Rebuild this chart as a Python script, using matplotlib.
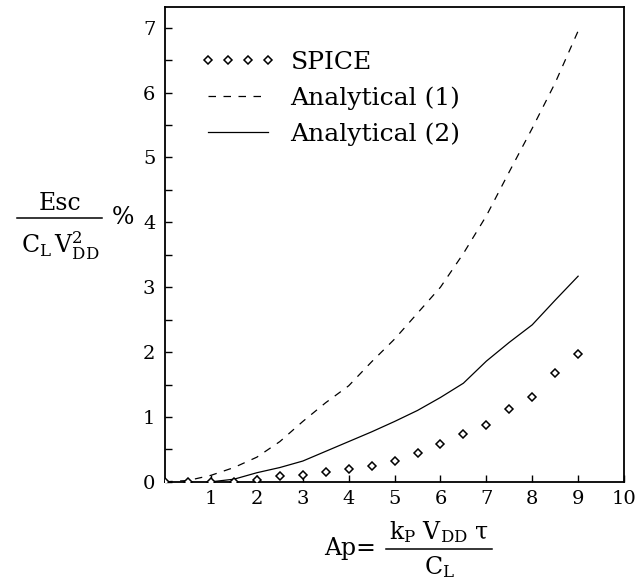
import numpy as np
import matplotlib
matplotlib.use("Agg")
import matplotlib.pyplot as plt
from matplotlib.lines import Line2D
from matplotlib.ticker import MultipleLocator

# SPICE results (diamonds)
spice_x = [0, 0.5, 1, 1.5, 2, 2.5, 3, 3.5, 4, 4.5, 5, 5.5, 6, 6.5, 7, 7.5, 8, 8.5, 9]
spice_y = [0.0, 0.0, 0.0, 0.0, 0.03, 0.09, 0.11, 0.15, 0.2, 0.25, 0.32, 0.44, 0.58, 0.73, 0.88, 1.12, 1.31, 1.67, 1.97]

# Analytical (1), dashed
an1_x = [0, 0.5, 1, 1.5, 2, 2.5, 3, 3.5, 4, 4.5, 5, 5.5, 6, 6.5, 7, 7.5, 8, 8.5, 9]
an1_y = [0.0, 0.02, 0.1, 0.22, 0.38, 0.62, 0.93, 1.22, 1.48, 1.85, 2.2, 2.6, 3.0, 3.52, 4.1, 4.78, 5.45, 6.15, 6.95]

# Analytical (2), solid
an2_x = [1, 1.5, 2, 2.5, 3, 3.5, 4, 4.5, 5, 5.5, 6, 6.5, 7, 7.5, 8, 8.5, 9]
an2_y = [0.0, 0.04, 0.14, 0.22, 0.32, 0.47, 0.62, 0.77, 0.93, 1.1, 1.3, 1.52, 1.86, 2.15, 2.42, 2.8, 3.17]

plt.rcParams['font.family'] = 'DejaVu Serif'
plt.rcParams['mathtext.fontset'] = 'dejavuserif'

W, H = 640, 584
fig = plt.figure(figsize=(W / 100, H / 100), dpi=100)
ax = fig.add_axes([0.258, 0.175, 0.717, 0.813])


def px(x, y):
    # pixel position -> figure fraction
    return x / W, 1 - y / H


ax.plot(spice_x, spice_y, linestyle='none', marker='D', markersize=4.5,
        markerfacecolor='white', markeredgecolor='black', markeredgewidth=1.1,
        label='SPICE', zorder=3)
ax.plot(an1_x, an1_y, color='black', linewidth=0.9, dashes=(6, 6), label='Analytical (1)')
ax.plot(an2_x, an2_y, color='black', linewidth=0.9, label='Analytical (2)')

ax.set_xlim(0, 10)
ax.set_ylim(0, 7.32)
ax.set_xticks(range(1, 11))
ax.set_yticks(range(0, 8))
ax.yaxis.set_minor_locator(MultipleLocator(0.5))
ax.tick_params(axis='both', which='both', direction='in', length=5, width=1,
               labelsize=14)
ax.tick_params(axis='y', pad=7)
ax.tick_params(axis='x', pad=6)
for s in ax.spines.values():
    s.set_linewidth(1.3)

ax.legend(loc='upper left', bbox_to_anchor=(0.028, 0.955), frameon=False, fontsize=18,
          numpoints=4, handlelength=3.0, handletextpad=0.6, labelspacing=0.5)

# y label: Esc / (CL VDD^2) %
fig.text(*px(60, 203), 'Esc', fontsize=17, ha='center', va='center')
fig.add_artist(Line2D([17 / W, 102 / W], [1 - 218 / H] * 2, color='black', linewidth=1.1))
fig.text(*px(60, 246), r'$\mathrm{C_L\,V_{DD}^{2}}$', fontsize=17, ha='center', va='center')
fig.text(*px(123, 217), '%', fontsize=17, ha='center', va='center')

# x label: Ap = kP VDD tau / CL
fig.text(*px(350, 549), 'Ap=', fontsize=17, ha='center', va='center')
fig.text(*px(439, 532), r'$\mathrm{k_P\ V_{DD}\ \tau}$', fontsize=17, ha='center', va='center')
fig.add_artist(Line2D([386 / W, 492 / W], [1 - 549 / H] * 2, color='black', linewidth=1.1))
fig.text(*px(439, 567), r'$\mathrm{C_L}$', fontsize=17, ha='center', va='center')

fig.savefig('out.png', dpi=100)
